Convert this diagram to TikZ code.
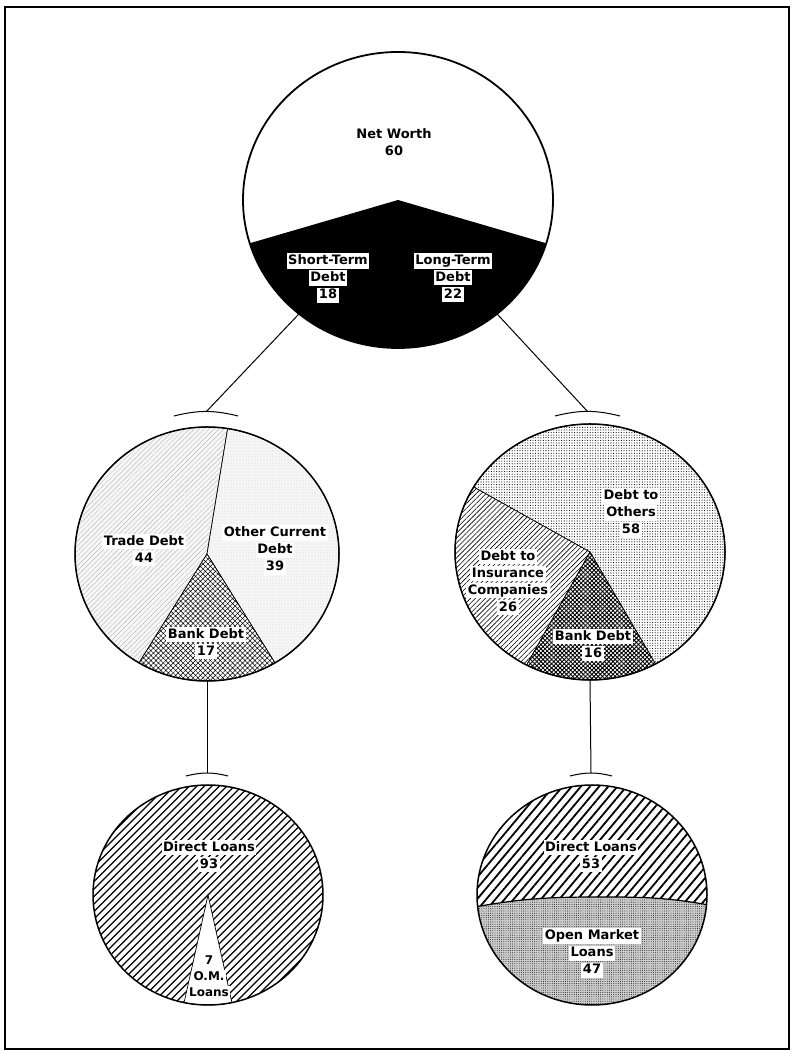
\documentclass[tikz,border=0pt]{standalone}
\usepackage{fontspec}
\newfontfamily\lab{DejaVu Sans}
\usetikzlibrary{patterns.meta,shapes.geometric}

\setlength{\fboxsep}{1.5pt}
\newcommand{\wb}[1]{\colorbox{white}{\rule[-2.5pt]{0pt}{11pt}#1}}
\newcommand{\pieslice}[6]{\path[#1] (#2) -- ++(#3:#5 and #6)
  arc[start angle=#3, end angle=#4, x radius=#5, y radius=#6] -- cycle;}

\tikzset{
  pie/.style={ellipse, inner sep=0pt, outer sep=0pt},
  lbl/.style={font=\lab\bfseries\fontsize{13}{17}\selectfont, align=center, inner sep=0pt},
  rim/.style={line width=1.5pt},
  wedgeline/.style={draw=black, line width=.7pt},
  trade/.style={wedgeline, fill=gray!7, postaction={pattern={Lines[angle=45,distance=3.5pt,line width=.3pt]}, pattern color=gray!65}},
  othercur/.style={wedgeline, fill=gray!6, postaction={pattern={Dots[distance=3pt,radius=.4pt]}, pattern color=gray!75}},
  bankl/.style={wedgeline, fill=white, postaction={pattern={Hatch[angle=45,distance=3.5pt,line width=.5pt]}, pattern color=black}},
  others/.style={wedgeline, fill=white, postaction={pattern={Dots[distance=2.6pt,radius=.55pt]}, pattern color=black}},
  insur/.style={wedgeline, fill=white, postaction={pattern={Lines[angle=45,distance=3.5pt,line width=.6pt]}, pattern color=black}},
  bankr/.style={wedgeline, fill=white, postaction={pattern={Hatch[angle=45,distance=3pt,line width=.9pt]}, pattern color=black}},
  directr/.style={fill=white, postaction={pattern={Lines[angle=50,distance=7pt,line width=1.8pt]}, pattern color=black}},
  openmk/.style={fill=gray!40, postaction={pattern={Dots[distance=2.2pt,radius=.45pt]}, pattern color=black}},
  link/.style={line width=1pt}
}

\begin{document}
\begin{tikzpicture}[x=1pt, y=1pt]
\useasboundingbox (0,0) rectangle (792,1054);
\draw[line width=1.6pt] (5,5) rectangle (789,1047);

% the five pies
\node[pie, minimum width=310pt, minimum height=296pt] (net) at (398,854) {};
\node[pie, minimum width=264pt, minimum height=254pt] (short) at (207,500) {};
\node[pie, minimum width=270pt, minimum height=256pt] (long) at (590,502) {};
\node[pie, minimum width=230pt, minimum height=220pt] (bankL) at (208,159) {};
\node[pie, minimum width=230pt, minimum height=220pt] (bankR) at (592,159) {};

% net worth / debt
\pieslice{fill=black}{net.center}{197}{343}{155}{148}
\draw[line width=1.8pt] (net.center) ellipse[x radius=155, y radius=148];

% short-term debt
\pieslice{trade}{short.center}{81}{239}{132}{127}
\pieslice{othercur}{short.center}{-59}{81}{132}{127}
\pieslice{bankl}{short.center}{239}{301}{132}{127}
\draw[rim] (short.center) ellipse[x radius=132, y radius=127];

% long-term debt
\pieslice{others}{long.center}{-61}{149.5}{135}{128}
\pieslice{insur}{long.center}{149.5}{242}{135}{128}
\pieslice{bankr}{long.center}{242}{299}{135}{128}
\draw[rim] (long.center) ellipse[x radius=135, y radius=128];

% bank debt, short-term side
\begin{scope}
  \pieslice{clip}{bankL.center}{282}{618}{115}{110}
  \foreach \d in {-240,-232.5,...,240}
    \draw[line width=1.1pt] ([shift={(\d-125,-125)}]bankL.center) -- ++(250,250);
\end{scope}
\pieslice{wedgeline, fill=white}{bankL.center}{258}{282}{115}{110}
\draw[rim] (bankL.center) ellipse[x radius=115, y radius=110];

% bank debt, long-term side
\fill[openmk] (bankR.center) ellipse[x radius=115, y radius=110];
\path[directr] ([shift={(186:115 and 110)}]bankR.center) to[out=10,in=180] (600,157)
  to[out=0,in=170] ([shift={(-5:115 and 110)}]bankR.center)
  arc[start angle=-5, end angle=186, x radius=115, y radius=110] -- cycle;
\draw[line width=1.2pt] ([shift={(186:115 and 110)}]bankR.center) to[out=10,in=180] (600,157)
  to[out=0,in=170] ([shift={(-5:115 and 110)}]bankR.center);
\draw[rim] (bankR.center) ellipse[x radius=115, y radius=110];

% labels
\node[lbl] (nwlbl) at (394,912) {Net Worth\\60};
\node[lbl] (stlbl) at (328,776) {\wb{Short-Term}\\\wb{Debt}\\\wb{18}};
\node[lbl] (ltlbl) at (453,776) {\wb{Long-Term}\\\wb{Debt}\\\wb{22}};
\node[lbl] (trlbl) at (144,504) {\wb{Trade Debt}\\\wb{44}};
\node[lbl] (oclbl) at (275,504) {\wb{Other Current}\\\wb{Debt}\\\wb{39}};
\node[lbl] (bklbl) at (206,411) {\wb{Bank Debt}\\\wb{17}};
\node[lbl] (otlbl) at (631,541) {\wb{Debt to}\\\wb{Others}\\\wb{58}};
\node[lbl] (inlbl) at (508,472) {\wb{Debt to}\\\wb{Insurance}\\\wb{Companies}\\\wb{26}};
\node[lbl] (bk2lbl) at (593,409) {\wb{Bank Debt}\\\wb{16}};
\node[lbl] (dllbl) at (209,198) {\wb{Direct Loans}\\\wb{93}};
\node[lbl, font=\lab\bfseries\fontsize{12}{16}\selectfont] (omlbl) at (209,77) {\wb{7}\\\wb{O.M.}\\\wb{Loans}};
\node[lbl] (dl2lbl) at (591,198) {\wb{Direct Loans}\\\wb{53}};
\node[lbl] (om2lbl) at (592,101) {\wb{Open Market}\\\wb{Loans}\\\wb{47}};

% connectors
\coordinate (capL) at (206,642);
\coordinate (capR) at (588,642);
\coordinate (capBL) at (207,281);
\coordinate (capBR) at (591,281);
\draw[link] (net.229) -- (capL);
\draw[link] (net.311) -- (capR);
\draw[link] (short.south) -- (capBL);
\draw[link] (long.south) -- (capBR);
\draw[link] ([shift={(-32,-4)}]capL) to[bend left=14] ([shift={(32,-4)}]capL);
\draw[link] ([shift={(-33,-4)}]capR) to[bend left=14] ([shift={(32,-4)}]capR);
\draw[link] ([shift={(-21,-3)}]capBL) to[bend left=14] ([shift={(21,-3)}]capBL);
\draw[link] ([shift={(-21,-3)}]capBR) to[bend left=14] ([shift={(21,-3)}]capBR);
\end{tikzpicture}
\end{document}
